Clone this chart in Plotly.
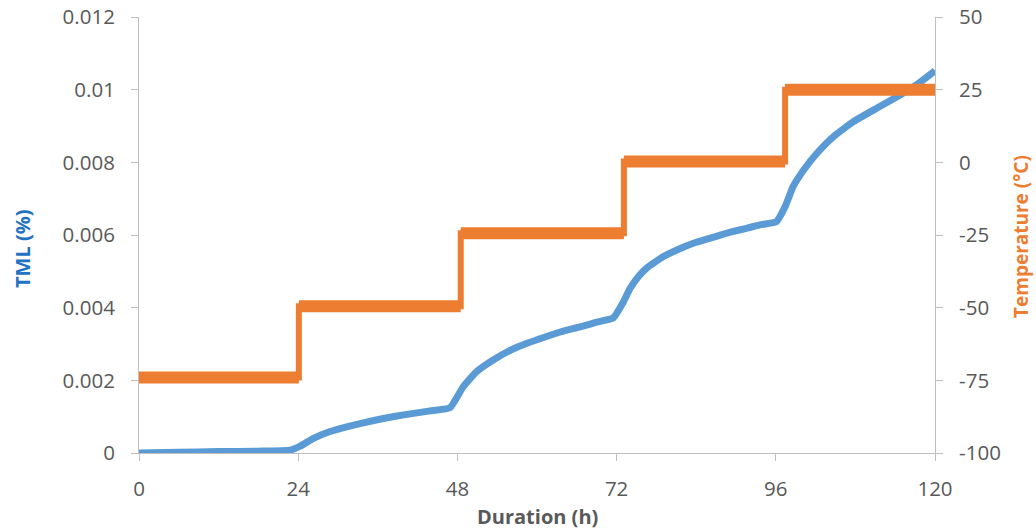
import plotly.graph_objects as go

# TML (%) versus duration (h)
hours = [0, 6, 12, 18, 22.8, 24.3, 26.3, 28.8, 31.3, 33.8, 36.3, 38.9, 41.4, 43.9, 46.9,
         48.9, 50.9, 53.4, 55.9, 58.5, 61, 63.5, 66.5, 69, 71.5,
         73, 74, 75.3, 76.6, 79, 81.6, 84, 86.6, 89, 91.7, 93.6, 96.1,
         97.4, 98.6, 100.2, 102.2, 104.7, 107.7, 111.2, 114.7, 117.2, 120]
tml = [0, 0.00002, 0.00004, 0.00005, 0.00008, 0.00019, 0.00040, 0.00059, 0.00072,
       0.00083, 0.00093, 0.00102, 0.00109, 0.00116, 0.00125,
       0.00183, 0.00224, 0.00256, 0.00282, 0.00302, 0.00318, 0.00333, 0.00347,
       0.00360, 0.00372,
       0.00415, 0.00452, 0.00486, 0.00510, 0.00540, 0.00563, 0.00580, 0.00594,
       0.00607, 0.00619, 0.00628, 0.00637,
       0.00678, 0.00733, 0.00779, 0.00825, 0.00871, 0.00912, 0.00949, 0.00985,
       0.01013, 0.01052]

# Temperature programme: change times (h) and the level held after each change (°C)
step_times = [0, 24.1, 48.5, 73.1, 97.4, 120]
step_levels = [-74, -49.5, -24.4, 0.3, 25]

x_ticks = [0, 24, 48, 72, 96, 120]
tml_ticks = [0, 0.002, 0.004, 0.006, 0.008, 0.01, 0.012]
tml_tick_text = ["0", "0.002", "0.004", "0.006", "0.008", "0.01", "0.012"]
temp_ticks = [-100, -75, -50, -25, 0, 25, 50]
temp_tick_text = ["-100", "-75", "-50", "-25", "0", "25", "50"]

BLUE = "#5B9BD5"
ORANGE = "#ED7D31"
GREY_TEXT = "#595959"
AXIS_GREY = "#BFBFBF"
FONT = "Open Sans"

fig = go.Figure()

fig.add_trace(go.Scatter(
    x=hours, y=tml, mode="lines", name="TML",
    line=dict(color=BLUE, width=7, shape="spline", smoothing=0.4), yaxis="y",
))

# step profile (thin risers) plus wider plateaus for the logged readings
step_y = step_levels + [step_levels[-1]]
fig.add_trace(go.Scatter(
    x=step_times, y=step_y, mode="lines", line_shape="hv", name="Temperature",
    line=dict(color=ORANGE, width=6), yaxis="y2",
))
plat_x, plat_y = [], []
for i, lvl in enumerate(step_levels):
    plat_x += [step_times[i], step_times[i + 1], None]
    plat_y += [lvl, lvl, None]
fig.add_trace(go.Scatter(
    x=plat_x, y=plat_y, mode="lines", name="Temperature",
    line=dict(color=ORANGE, width=12), yaxis="y2", showlegend=False,
))

axis_common = dict(
    showgrid=False, zeroline=False, showline=True, linecolor=AXIS_GREY, linewidth=1,
    ticks="outside", ticklen=7, tickcolor=AXIS_GREY, tickwidth=1, automargin=False,
    tickfont=dict(family=FONT, size=20.5, color=GREY_TEXT),
)

fig.update_layout(
    width=1036, height=531,
    margin=dict(l=139, r=101, t=17, b=78),
    paper_bgcolor="white", plot_bgcolor="white",
    showlegend=False,
    xaxis=dict(range=[0, 120], tickvals=x_ticks, ticklabelstandoff=10, **axis_common),
    yaxis=dict(range=[0, 0.012], tickvals=tml_ticks, ticktext=tml_tick_text,
               ticklabelstandoff=12, **axis_common),
    yaxis2=dict(range=[-100, 50], tickvals=temp_ticks, ticktext=temp_tick_text,
                overlaying="y", side="right", ticklabelstandoff=12, **axis_common),
)

fig.add_annotation(text="<b>Duration (h)</b>", xref="paper", yref="paper",
                   x=0.5, y=0, yshift=-63, xanchor="center", yanchor="middle",
                   showarrow=False, font=dict(family=FONT, size=20, color=GREY_TEXT))
fig.add_annotation(text="<b>TML (%)</b>", xref="paper", yref="paper",
                   x=0, y=0.5, xshift=-117, yshift=-14, textangle=-90,
                   xanchor="center", yanchor="middle",
                   showarrow=False, font=dict(family=FONT, size=20, color="#2272C3"))
fig.add_annotation(text="<b>Temperature (°C)</b>", xref="paper", yref="paper",
                   x=1, y=0.5, xshift=86, yshift=-2, textangle=-90,
                   xanchor="center", yanchor="middle",
                   showarrow=False, font=dict(family=FONT, size=19, color=ORANGE))

fig.write_html("out.html")
